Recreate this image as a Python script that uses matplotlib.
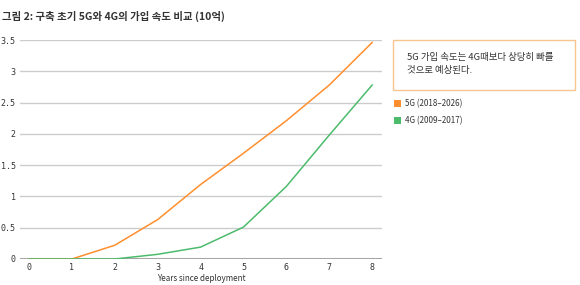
import matplotlib
matplotlib.use("Agg")
import matplotlib.pyplot as plt
from matplotlib.patches import Rectangle

plt.rcParams['font.family'] = ['Noto Sans CJK KR', 'DejaVu Sans']

years = [0, 1, 2, 3, 4, 5, 6, 7, 8]
g5 = [0, 0, 0.22, 0.63, 1.19, 1.69, 2.21, 2.78, 3.46]
g4 = [0, 0, 0, 0.075, 0.19, 0.51, 1.16, 1.98, 2.78]
yticks = [0, 0.5, 1, 1.5, 2, 2.5, 3, 3.5]
ytick_labels = ['0', '0.5', '1', '1.5', '2', '2.5', '3', '3.5']
legend_labels = ['5G (2018–2026)', '4G (2009–2017)']
title = '그림 2: 구축 초기 5G와 4G의 가입 속도 비교 (10억)'
note = '5G 가입 속도는 4G때보다 상당히 빠를\n것으로 예상된다.'
xlabel = 'Years since deployment'

c5 = '#ff8f2e'
c4 = '#4cbb6c'
txt = '#333333'

fig = plt.figure(figsize=(5.8, 2.85), dpi=100)
ax = fig.add_axes([20/580, 1-259/285, (382-20)/580, (259-40)/285])
ax.set_xlim(-0.21, 8.23)
ax.set_ylim(0, 3.5)

for y in yticks[1:]:
    ax.axhline(y, color='#cccccc', lw=1.0, zorder=0)
ax.axhline(0, color='#a6a6a6', lw=2.2, zorder=2)
ax.plot(years, g5, color=c5, lw=1.1, zorder=3)
ax.plot(years, g4, color=c4, lw=1.1, zorder=4)

for s in ax.spines.values():
    s.set_visible(False)
ax.set_yticks(yticks)
ax.set_yticklabels(ytick_labels, family='DejaVu Sans Mono', fontsize=6, color=txt)
ax.set_xticks(years)
ax.set_xticklabels([str(y) for y in years], family='DejaVu Sans Mono', fontsize=6, color=txt)
ax.tick_params(length=0, pad=3)
ax.set_xlabel(xlabel, fontsize=5.8, color=txt, labelpad=1)

fig.text(2/580, 1-16/285, title, fontsize=7.5, fontweight='bold', color=txt, va='center', ha='left')

box = Rectangle((393/580, 1-90/285), (575-393)/580, 50/285, transform=fig.transFigure,
                facecolor='white', edgecolor='#f9c58f', lw=1.0)
fig.add_artist(box)
fig.text(407/580, 1-64/285, note, fontsize=6.8, color=txt, va='center', ha='left', linespacing=1.5)

for i, (lab, c) in enumerate(zip(legend_labels, [c5, c4])):
    yc = 103.5 + i*17
    fig.add_artist(Rectangle((394/580, 1-(yc+3.5)/285), 7/580, 7/285, transform=fig.transFigure,
                             facecolor=c, edgecolor='none'))
    fig.text(405/580, 1-yc/285, lab, fontsize=5.8, color=txt, va='center', ha='left')

fig.savefig('out.png', dpi=100)
